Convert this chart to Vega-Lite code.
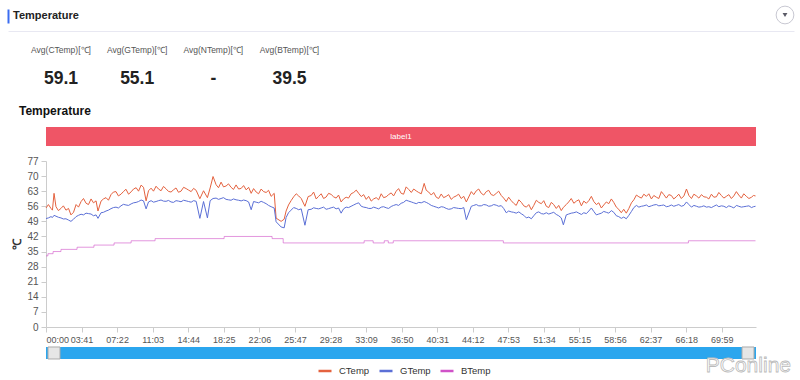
{
  "$schema": "https://vega.github.io/schema/vega-lite/v6.json",
  "background": "white",
  "padding": {"left": 8, "top": 4, "right": 4, "bottom": 2},
  "config": {
    "font": "Liberation Sans",
    "view": {"stroke": null},
    "axis": {"labelOverlap": false}
  },
  "datasets": {
    "stats": [
      {"metric": "Avg(CTemp)[℃]", "value": "59.1"},
      {"metric": "Avg(GTemp)[℃]", "value": "55.1"},
      {"metric": "Avg(NTemp)[℃]", "value": "-"},
      {"metric": "Avg(BTemp)[℃]", "value": "39.5"}
    ],
    "labels": [{"label": "label1", "start": 0, "end": 4412}],
    "window": [{"name": "zoom", "start": 0, "end": 4412, "mark": "PConline"}],
    "temps": [
      {"t": 0, "CTemp": 55.2, "GTemp": 50.3}, {"t": 31, "CTemp": 55.0, "GTemp": 51.2}, {"t": 50, "CTemp": 62.0, "GTemp": 51.8},
      {"t": 62, "CTemp": 55.8, "GTemp": 51.4}, {"t": 93, "CTemp": 55.0, "GTemp": 50.6}, {"t": 124, "CTemp": 54.2, "GTemp": 50.2},
      {"t": 155, "CTemp": 52.0, "GTemp": 49.0}, {"t": 187, "CTemp": 56.8, "GTemp": 51.2}, {"t": 218, "CTemp": 58.2, "GTemp": 52.3},
      {"t": 249, "CTemp": 57.4, "GTemp": 52.8}, {"t": 280, "CTemp": 59.4, "GTemp": 52.4}, {"t": 311, "CTemp": 58.5, "GTemp": 52.0},
      {"t": 323, "CTemp": 53.8, "GTemp": 50.4}, {"t": 342, "CTemp": 58.4, "GTemp": 53.0}, {"t": 373, "CTemp": 60.0, "GTemp": 53.8},
      {"t": 404, "CTemp": 61.4, "GTemp": 54.9}, {"t": 435, "CTemp": 62.8, "GTemp": 55.6}, {"t": 466, "CTemp": 61.6, "GTemp": 56.2},
      {"t": 497, "CTemp": 63.9, "GTemp": 56.6}, {"t": 529, "CTemp": 62.7, "GTemp": 57.1}, {"t": 560, "CTemp": 64.6, "GTemp": 57.8},
      {"t": 591, "CTemp": 65.8, "GTemp": 58.9}, {"t": 622, "CTemp": 58.5, "GTemp": 54.8}, {"t": 653, "CTemp": 64.4, "GTemp": 58.6},
      {"t": 684, "CTemp": 65.3, "GTemp": 58.2}, {"t": 715, "CTemp": 63.2, "GTemp": 58.9}, {"t": 746, "CTemp": 64.1, "GTemp": 58.3},
      {"t": 777, "CTemp": 62.6, "GTemp": 58.0}, {"t": 808, "CTemp": 64.5, "GTemp": 58.6}, {"t": 839, "CTemp": 63.0, "GTemp": 58.1},
      {"t": 871, "CTemp": 64.2, "GTemp": 58.5}, {"t": 902, "CTemp": 62.8, "GTemp": 57.9}, {"t": 933, "CTemp": 63.4, "GTemp": 58.3},
      {"t": 956, "CTemp": 59.5, "GTemp": 50.4}, {"t": 979, "CTemp": 63.2, "GTemp": 58.2}, {"t": 1003, "CTemp": 60.0, "GTemp": 50.6},
      {"t": 1020, "CTemp": 64.5, "GTemp": 58.6}, {"t": 1038, "CTemp": 69.8, "GTemp": 59.6}, {"t": 1057, "CTemp": 66.0, "GTemp": 59.8},
      {"t": 1088, "CTemp": 67.2, "GTemp": 59.6}, {"t": 1119, "CTemp": 65.4, "GTemp": 59.2}, {"t": 1150, "CTemp": 64.8, "GTemp": 58.8},
      {"t": 1181, "CTemp": 65.9, "GTemp": 59.0}, {"t": 1213, "CTemp": 64.3, "GTemp": 58.5}, {"t": 1244, "CTemp": 63.6, "GTemp": 58.6},
      {"t": 1275, "CTemp": 62.0, "GTemp": 54.4}, {"t": 1306, "CTemp": 62.6, "GTemp": 57.9}, {"t": 1337, "CTemp": 64.0, "GTemp": 58.3},
      {"t": 1368, "CTemp": 62.4, "GTemp": 57.2}, {"t": 1399, "CTemp": 60.6, "GTemp": 55.8}, {"t": 1418, "CTemp": 62.0, "GTemp": 55.2},
      {"t": 1430, "CTemp": 50.5, "GTemp": 48.8}, {"t": 1461, "CTemp": 49.0, "GTemp": 46.4}, {"t": 1480, "CTemp": 50.0, "GTemp": 46.0},
      {"t": 1492, "CTemp": 53.8, "GTemp": 50.8}, {"t": 1523, "CTemp": 58.6, "GTemp": 54.2}, {"t": 1555, "CTemp": 61.8, "GTemp": 55.0},
      {"t": 1586, "CTemp": 59.6, "GTemp": 54.8}, {"t": 1609, "CTemp": 56.0, "GTemp": 47.2}, {"t": 1629, "CTemp": 60.5, "GTemp": 54.4},
      {"t": 1648, "CTemp": 61.0, "GTemp": 54.6}, {"t": 1679, "CTemp": 59.4, "GTemp": 55.0}, {"t": 1710, "CTemp": 61.8, "GTemp": 55.2},
      {"t": 1741, "CTemp": 60.3, "GTemp": 54.6}, {"t": 1772, "CTemp": 61.5, "GTemp": 55.3}, {"t": 1803, "CTemp": 59.8, "GTemp": 54.8},
      {"t": 1834, "CTemp": 58.0, "GTemp": 52.8}, {"t": 1865, "CTemp": 60.2, "GTemp": 55.6}, {"t": 1896, "CTemp": 61.8, "GTemp": 56.0},
      {"t": 1928, "CTemp": 63.5, "GTemp": 57.2}, {"t": 1959, "CTemp": 60.5, "GTemp": 56.0}, {"t": 1990, "CTemp": 59.2, "GTemp": 55.4},
      {"t": 2021, "CTemp": 58.4, "GTemp": 55.0}, {"t": 2052, "CTemp": 60.0, "GTemp": 55.2}, {"t": 2083, "CTemp": 61.8, "GTemp": 55.6},
      {"t": 2114, "CTemp": 60.4, "GTemp": 55.3}, {"t": 2145, "CTemp": 62.2, "GTemp": 55.9}, {"t": 2176, "CTemp": 63.0, "GTemp": 56.8},
      {"t": 2207, "CTemp": 62.0, "GTemp": 57.4}, {"t": 2238, "CTemp": 65.0, "GTemp": 58.8}, {"t": 2270, "CTemp": 62.4, "GTemp": 58.0},
      {"t": 2301, "CTemp": 63.1, "GTemp": 57.2}, {"t": 2332, "CTemp": 61.8, "GTemp": 57.6}, {"t": 2350, "CTemp": 66.6, "GTemp": 58.2},
      {"t": 2363, "CTemp": 63.4, "GTemp": 57.8}, {"t": 2394, "CTemp": 61.2, "GTemp": 56.4}, {"t": 2425, "CTemp": 60.2, "GTemp": 55.6},
      {"t": 2456, "CTemp": 61.7, "GTemp": 55.8}, {"t": 2487, "CTemp": 60.6, "GTemp": 55.0}, {"t": 2518, "CTemp": 59.2, "GTemp": 54.8},
      {"t": 2549, "CTemp": 60.8, "GTemp": 55.2}, {"t": 2580, "CTemp": 59.6, "GTemp": 54.9}, {"t": 2612, "CTemp": 58.0, "GTemp": 49.8},
      {"t": 2643, "CTemp": 62.8, "GTemp": 56.0}, {"t": 2674, "CTemp": 63.2, "GTemp": 56.8}, {"t": 2705, "CTemp": 62.0, "GTemp": 56.2},
      {"t": 2736, "CTemp": 62.8, "GTemp": 56.6}, {"t": 2767, "CTemp": 61.4, "GTemp": 56.2}, {"t": 2798, "CTemp": 62.0, "GTemp": 56.5},
      {"t": 2829, "CTemp": 61.0, "GTemp": 56.3}, {"t": 2860, "CTemp": 58.2, "GTemp": 53.0}, {"t": 2891, "CTemp": 58.6, "GTemp": 53.4},
      {"t": 2922, "CTemp": 56.4, "GTemp": 52.8}, {"t": 2954, "CTemp": 57.8, "GTemp": 52.5}, {"t": 2985, "CTemp": 55.6, "GTemp": 50.6},
      {"t": 3016, "CTemp": 54.4, "GTemp": 50.2}, {"t": 3047, "CTemp": 58.8, "GTemp": 53.0}, {"t": 3078, "CTemp": 57.2, "GTemp": 52.6},
      {"t": 3109, "CTemp": 56.0, "GTemp": 53.0}, {"t": 3140, "CTemp": 57.8, "GTemp": 52.8}, {"t": 3171, "CTemp": 55.0, "GTemp": 52.2},
      {"t": 3202, "CTemp": 54.0, "GTemp": 50.6}, {"t": 3215, "CTemp": 55.5, "GTemp": 47.4}, {"t": 3233, "CTemp": 56.8, "GTemp": 52.0},
      {"t": 3264, "CTemp": 59.6, "GTemp": 52.8}, {"t": 3296, "CTemp": 58.4, "GTemp": 53.4}, {"t": 3327, "CTemp": 56.2, "GTemp": 52.2},
      {"t": 3358, "CTemp": 57.4, "GTemp": 52.6}, {"t": 3389, "CTemp": 60.6, "GTemp": 55.2}, {"t": 3420, "CTemp": 56.8, "GTemp": 52.0},
      {"t": 3451, "CTemp": 55.2, "GTemp": 52.8}, {"t": 3482, "CTemp": 58.0, "GTemp": 53.2}, {"t": 3513, "CTemp": 59.4, "GTemp": 54.0},
      {"t": 3544, "CTemp": 55.6, "GTemp": 51.6}, {"t": 3575, "CTemp": 53.0, "GTemp": 50.4}, {"t": 3606, "CTemp": 52.8, "GTemp": 50.2},
      {"t": 3638, "CTemp": 57.6, "GTemp": 53.6}, {"t": 3669, "CTemp": 61.2, "GTemp": 56.4}, {"t": 3700, "CTemp": 59.8, "GTemp": 56.0},
      {"t": 3731, "CTemp": 60.6, "GTemp": 56.6}, {"t": 3762, "CTemp": 59.4, "GTemp": 56.2}, {"t": 3793, "CTemp": 60.2, "GTemp": 56.8},
      {"t": 3824, "CTemp": 62.8, "GTemp": 56.4}, {"t": 3855, "CTemp": 59.8, "GTemp": 55.8}, {"t": 3886, "CTemp": 61.0, "GTemp": 56.6},
      {"t": 3917, "CTemp": 60.4, "GTemp": 56.4}, {"t": 3948, "CTemp": 59.6, "GTemp": 56.0}, {"t": 3980, "CTemp": 64.0, "GTemp": 58.0},
      {"t": 4011, "CTemp": 59.6, "GTemp": 55.6}, {"t": 4042, "CTemp": 60.8, "GTemp": 56.0}, {"t": 4073, "CTemp": 61.4, "GTemp": 55.8},
      {"t": 4104, "CTemp": 60.2, "GTemp": 55.6}, {"t": 4135, "CTemp": 61.6, "GTemp": 55.4}, {"t": 4166, "CTemp": 60.4, "GTemp": 56.6},
      {"t": 4197, "CTemp": 61.0, "GTemp": 56.2}, {"t": 4228, "CTemp": 60.6, "GTemp": 55.4}, {"t": 4259, "CTemp": 59.6, "GTemp": 55.8},
      {"t": 4290, "CTemp": 62.8, "GTemp": 56.4}, {"t": 4321, "CTemp": 59.8, "GTemp": 55.6}, {"t": 4352, "CTemp": 60.6, "GTemp": 56.0},
      {"t": 4384, "CTemp": 60.2, "GTemp": 55.4}, {"t": 4409, "CTemp": 60.8, "GTemp": 56.0},
      {"t": 15, "CTemp": 56.8, "GTemp": 50.6}, {"t": 40, "CTemp": 54.2, "GTemp": 50.8}, {"t": 77, "CTemp": 54.0, "GTemp": 50.9},
      {"t": 108, "CTemp": 56.2, "GTemp": 50.1}, {"t": 140, "CTemp": 55.0, "GTemp": 49.6}, {"t": 171, "CTemp": 53.2, "GTemp": 50.0},
      {"t": 202, "CTemp": 55.6, "GTemp": 51.8}, {"t": 233, "CTemp": 59.6, "GTemp": 52.0}, {"t": 264, "CTemp": 56.8, "GTemp": 52.6},
      {"t": 295, "CTemp": 57.6, "GTemp": 51.6}, {"t": 357, "CTemp": 59.4, "GTemp": 53.2}, {"t": 388, "CTemp": 58.8, "GTemp": 54.2},
      {"t": 419, "CTemp": 62.6, "GTemp": 55.4}, {"t": 450, "CTemp": 60.8, "GTemp": 55.2}, {"t": 481, "CTemp": 62.8, "GTemp": 56.9},
      {"t": 513, "CTemp": 61.6, "GTemp": 56.4}, {"t": 544, "CTemp": 64.0, "GTemp": 57.6}, {"t": 575, "CTemp": 63.0, "GTemp": 58.2},
      {"t": 606, "CTemp": 64.8, "GTemp": 58.5}, {"t": 637, "CTemp": 63.2, "GTemp": 58.0}, {"t": 668, "CTemp": 63.0, "GTemp": 57.9},
      {"t": 699, "CTemp": 64.0, "GTemp": 58.6}, {"t": 730, "CTemp": 65.2, "GTemp": 58.4}, {"t": 761, "CTemp": 62.9, "GTemp": 58.7},
      {"t": 792, "CTemp": 63.6, "GTemp": 57.8}, {"t": 823, "CTemp": 62.5, "GTemp": 58.4}, {"t": 855, "CTemp": 64.8, "GTemp": 58.8},
      {"t": 886, "CTemp": 63.5, "GTemp": 58.2}, {"t": 917, "CTemp": 64.3, "GTemp": 58.6}, {"t": 1072, "CTemp": 64.6, "GTemp": 59.2},
      {"t": 1103, "CTemp": 65.0, "GTemp": 60.0}, {"t": 1134, "CTemp": 66.4, "GTemp": 59.0}, {"t": 1165, "CTemp": 63.8, "GTemp": 59.4},
      {"t": 1197, "CTemp": 64.0, "GTemp": 58.8}, {"t": 1228, "CTemp": 65.6, "GTemp": 58.9}, {"t": 1259, "CTemp": 64.8, "GTemp": 58.0},
      {"t": 1290, "CTemp": 64.2, "GTemp": 58.2}, {"t": 1321, "CTemp": 61.8, "GTemp": 57.6}, {"t": 1352, "CTemp": 62.8, "GTemp": 57.8},
      {"t": 1383, "CTemp": 63.4, "GTemp": 56.4}, {"t": 1507, "CTemp": 56.6, "GTemp": 53.0}, {"t": 1539, "CTemp": 60.4, "GTemp": 55.4},
      {"t": 1570, "CTemp": 60.8, "GTemp": 54.4}, {"t": 1663, "CTemp": 62.6, "GTemp": 55.3}, {"t": 1694, "CTemp": 60.6, "GTemp": 54.8},
      {"t": 1725, "CTemp": 59.6, "GTemp": 55.6}, {"t": 1756, "CTemp": 62.0, "GTemp": 54.9}, {"t": 1787, "CTemp": 60.4, "GTemp": 55.6},
      {"t": 1818, "CTemp": 61.2, "GTemp": 55.2}, {"t": 1849, "CTemp": 59.4, "GTemp": 54.8}, {"t": 1880, "CTemp": 59.8, "GTemp": 55.4},
      {"t": 1912, "CTemp": 62.4, "GTemp": 56.6}, {"t": 1943, "CTemp": 62.0, "GTemp": 57.6}, {"t": 1974, "CTemp": 61.4, "GTemp": 55.6},
      {"t": 2005, "CTemp": 60.6, "GTemp": 55.0}, {"t": 2036, "CTemp": 59.4, "GTemp": 55.6}, {"t": 2067, "CTemp": 59.0, "GTemp": 54.8},
      {"t": 2098, "CTemp": 60.0, "GTemp": 55.8}, {"t": 2129, "CTemp": 61.4, "GTemp": 55.0}, {"t": 2160, "CTemp": 60.8, "GTemp": 56.4},
      {"t": 2191, "CTemp": 64.2, "GTemp": 56.4}, {"t": 2222, "CTemp": 61.6, "GTemp": 57.8}, {"t": 2254, "CTemp": 63.8, "GTemp": 58.4},
      {"t": 2285, "CTemp": 64.0, "GTemp": 57.6}, {"t": 2316, "CTemp": 62.4, "GTemp": 57.8}, {"t": 2378, "CTemp": 62.6, "GTemp": 57.2},
      {"t": 2409, "CTemp": 62.4, "GTemp": 56.0}, {"t": 2440, "CTemp": 59.6, "GTemp": 55.2}, {"t": 2471, "CTemp": 60.0, "GTemp": 55.6},
      {"t": 2502, "CTemp": 61.4, "GTemp": 54.6}, {"t": 2533, "CTemp": 60.2, "GTemp": 55.4}, {"t": 2564, "CTemp": 61.6, "GTemp": 55.0},
      {"t": 2596, "CTemp": 60.6, "GTemp": 55.4}, {"t": 2658, "CTemp": 61.4, "GTemp": 56.4}, {"t": 2689, "CTemp": 64.0, "GTemp": 56.2},
      {"t": 2720, "CTemp": 61.2, "GTemp": 56.8}, {"t": 2751, "CTemp": 63.4, "GTemp": 56.0}, {"t": 2782, "CTemp": 61.0, "GTemp": 56.8},
      {"t": 2813, "CTemp": 63.0, "GTemp": 56.0}, {"t": 2844, "CTemp": 59.8, "GTemp": 55.0}, {"t": 2875, "CTemp": 60.2, "GTemp": 53.8},
      {"t": 2906, "CTemp": 57.4, "GTemp": 53.2}, {"t": 2938, "CTemp": 59.0, "GTemp": 53.4}, {"t": 2969, "CTemp": 56.2, "GTemp": 51.8},
      {"t": 3000, "CTemp": 56.8, "GTemp": 51.0}, {"t": 3031, "CTemp": 56.4, "GTemp": 51.6}, {"t": 3062, "CTemp": 57.8, "GTemp": 53.4},
      {"t": 3093, "CTemp": 58.6, "GTemp": 52.4}, {"t": 3124, "CTemp": 55.4, "GTemp": 52.4}, {"t": 3155, "CTemp": 56.8, "GTemp": 53.2},
      {"t": 3186, "CTemp": 56.4, "GTemp": 51.6}, {"t": 3248, "CTemp": 58.0, "GTemp": 52.4}, {"t": 3280, "CTemp": 57.4, "GTemp": 53.0},
      {"t": 3311, "CTemp": 59.0, "GTemp": 52.8}, {"t": 3342, "CTemp": 58.4, "GTemp": 53.0}, {"t": 3373, "CTemp": 58.6, "GTemp": 53.8},
      {"t": 3404, "CTemp": 58.2, "GTemp": 53.6}, {"t": 3435, "CTemp": 57.6, "GTemp": 52.4}, {"t": 3466, "CTemp": 56.6, "GTemp": 53.6},
      {"t": 3497, "CTemp": 57.2, "GTemp": 52.8}, {"t": 3528, "CTemp": 57.8, "GTemp": 53.2}, {"t": 3559, "CTemp": 54.6, "GTemp": 51.2},
      {"t": 3590, "CTemp": 54.6, "GTemp": 51.0}, {"t": 3622, "CTemp": 55.0, "GTemp": 51.8}, {"t": 3653, "CTemp": 59.0, "GTemp": 55.4},
      {"t": 3684, "CTemp": 60.4, "GTemp": 55.6}, {"t": 3715, "CTemp": 61.6, "GTemp": 56.2}, {"t": 3746, "CTemp": 61.8, "GTemp": 55.8},
      {"t": 3777, "CTemp": 61.0, "GTemp": 56.6}, {"t": 3808, "CTemp": 59.6, "GTemp": 56.2}, {"t": 3839, "CTemp": 61.4, "GTemp": 56.6},
      {"t": 3870, "CTemp": 61.4, "GTemp": 56.0}, {"t": 3901, "CTemp": 59.4, "GTemp": 56.0}, {"t": 3932, "CTemp": 61.6, "GTemp": 56.8},
      {"t": 3964, "CTemp": 60.8, "GTemp": 56.4}, {"t": 3995, "CTemp": 61.0, "GTemp": 56.8}, {"t": 4026, "CTemp": 61.6, "GTemp": 56.4},
      {"t": 4057, "CTemp": 59.8, "GTemp": 55.6}, {"t": 4088, "CTemp": 60.4, "GTemp": 56.2}, {"t": 4119, "CTemp": 59.4, "GTemp": 55.8},
      {"t": 4150, "CTemp": 60.2, "GTemp": 56.0}, {"t": 4181, "CTemp": 62.4, "GTemp": 55.8}, {"t": 4212, "CTemp": 59.8, "GTemp": 56.0},
      {"t": 4243, "CTemp": 61.4, "GTemp": 56.2}, {"t": 4274, "CTemp": 60.8, "GTemp": 55.2}, {"t": 4305, "CTemp": 61.2, "GTemp": 56.0},
      {"t": 4336, "CTemp": 61.8, "GTemp": 55.8}, {"t": 4368, "CTemp": 59.6, "GTemp": 56.2}, {"t": 4396, "CTemp": 61.0, "GTemp": 55.8}
    ],
    "btemp": [
      {"t": 0, "BTemp": 33}, {"t": 12, "BTemp": 34}, {"t": 44, "BTemp": 35}, {"t": 93, "BTemp": 36},
      {"t": 193, "BTemp": 37}, {"t": 298, "BTemp": 38}, {"t": 423, "BTemp": 39}, {"t": 529, "BTemp": 40},
      {"t": 678, "BTemp": 41}, {"t": 1107, "BTemp": 42}, {"t": 1405, "BTemp": 41}, {"t": 1474, "BTemp": 39},
      {"t": 1977, "BTemp": 40}, {"t": 2033, "BTemp": 39}, {"t": 2102, "BTemp": 40}, {"t": 2127, "BTemp": 39},
      {"t": 2158, "BTemp": 40}, {"t": 2842, "BTemp": 39}, {"t": 3992, "BTemp": 40}, {"t": 4409, "BTemp": 40}
    ]
  },
  "spacing": 15,
  "bounds": "flush",
  "center": true,
  "resolve": {"scale": {"color": "shared"}},
  "vconcat": [
    {
      "width": 786,
      "height": 14,
      "title": {"text": "Temperature", "anchor": "start", "frame": "group", "fontSize": 11, "fontWeight": "bold", "color": "#222222", "dx": 5, "offset": -17},
      "data": {"values": [{"icon": "menu"}]},
      "encoding": {
        "x": {"datum": 1, "type": "quantitative", "scale": {"domain": [0, 1]}, "axis": {"orient": "bottom", "offset": 8, "domainColor": "#e8e8f2", "domainWidth": 1, "ticks": false, "labels": false, "grid": false, "title": null}},
        "y": {"datum": 0, "type": "quantitative", "scale": {"domain": [-1, 1]}, "axis": {"domainColor": "#3b6cf0", "domainWidth": 2, "ticks": false, "labels": false, "grid": false, "title": null}}
      },
      "layer": [
        {"mark": {"type": "point", "shape": "circle", "size": 314, "filled": true, "fill": "white", "stroke": "#c8c8d2", "strokeWidth": 1, "opacity": 1, "xOffset": -9, "yOffset": -1}},
        {"mark": {"type": "point", "shape": "triangle-down", "size": 24, "filled": true, "color": "#5a5a66", "opacity": 1, "xOffset": -9, "yOffset": -1}}
      ]
    },
    {
      "width": 786,
      "height": 53,
      "data": {"name": "stats"},
      "encoding": {
        "x": {"field": "metric", "type": "nominal", "sort": null, "scale": {"type": "point", "range": [53, 281.5], "padding": 0}, "axis": null}
      },
      "layer": [
        {"mark": {"type": "text", "fontSize": 8.5, "color": "#555555"}, "encoding": {"text": {"field": "metric"}, "y": {"datum": "label", "type": "nominal", "scale": {"type": "point", "domain": ["label", "value"], "padding": 0.446}, "axis": null}}},
        {"mark": {"type": "text", "fontSize": 17.5, "fontWeight": "bold", "color": "#222222"}, "encoding": {"text": {"field": "value"}, "y": {"datum": "value", "type": "nominal"}}}
      ]
    },
    {
      "width": 710,
      "height": 40,
      "title": {"text": "Temperature", "anchor": "start", "frame": "group", "fontSize": 12, "fontWeight": "bold", "color": "#111111", "dx": -27, "offset": -12},
      "data": {"name": "labels"},
      "encoding": {
        "y": {"field": "label", "type": "nominal", "scale": {"type": "band", "paddingInner": 0, "paddingOuter": 0.553, "align": 1}, "axis": null}
      },
      "layer": [
        {"mark": {"type": "rect", "color": "#ef5566"}, "encoding": {"x": {"field": "start", "type": "quantitative", "scale": {"domain": [0, 4412], "nice": false}, "axis": null}, "x2": {"field": "end"}}},
        {"mark": {"type": "text", "color": "white", "fontSize": 8}, "encoding": {"text": {"field": "label"}}}
      ]
    },
    {
      "width": 710,
      "height": 166,
      "encoding": {
        "x": {"field": "t", "type": "quantitative", "scale": {"domain": [0, 4412], "nice": false},
          "axis": {"values": [0, 221, 442, 663, 884, 1105, 1326, 1547, 1768, 1989, 2210, 2431, 2652, 2873, 3094, 3315, 3536, 3757, 3978, 4199],
            "labelExpr": "(floor(datum.value/60) < 10 ? '0' : '') + floor(datum.value/60) + ':' + (datum.value % 60 < 10 ? '0' : '') + (datum.value % 60)",
            "labelFlush": true, "labelOverlap": false, "grid": false, "title": null, "domainColor": "#cccccc", "tickColor": "#cccccc", "tickSize": 5,
            "labelColor": "#555555", "labelFontSize": 9, "labelPadding": 3}},
        "y": {"field": "value", "type": "quantitative", "scale": {"domain": [0, 77], "nice": false},
          "axis": {"values": [0, 7, 14, 21, 28, 35, 42, 49, 56, 63, 70, 77], "labelOverlap": false, "grid": false, "title": "℃",
            "domainColor": "#cccccc", "tickColor": "#cccccc", "tickSize": 5, "labelColor": "#555555", "labelFontSize": 10,
            "labelPadding": 3, "titleFontSize": 11.5, "titleFontWeight": "bold", "titleColor": "#333333", "titlePadding": 4}},
        "color": {"field": "series", "type": "nominal",
          "scale": {"domain": ["CTemp", "GTemp", "BTemp"], "range": ["#e4623f", "#5b6fd6", "#d052c8"]},
          "legend": {"orient": "none", "legendX": 309, "legendY": 354, "direction": "horizontal", "title": null, "symbolType": "stroke", "symbolSize": 169,
            "symbolStrokeWidth": 2.5, "symbolOpacity": 1, "labelFontSize": 9.5, "labelColor": "#333333", "columnPadding": 4, "labelOffset": 6}}
      },
      "layer": [
        {
          "data": {"name": "temps"},
          "transform": [{"fold": ["CTemp", "GTemp"], "as": ["series", "value"]}],
          "mark": {"type": "line", "strokeWidth": 1, "interpolate": "linear"}
        },
        {
          "data": {"name": "btemp"},
          "transform": [{"fold": ["BTemp"], "as": ["series", "value"]}],
          "mark": {"type": "line", "strokeWidth": 1, "interpolate": "step-after", "strokeOpacity": 0.6}
        }
      ]
    },
    {
      "width": 710,
      "height": 17,
      "data": {"name": "window"},
      "encoding": {
        "y": {"field": "name", "type": "nominal", "scale": {"type": "band", "paddingInner": 0, "paddingOuter": 0.2083, "align": 1}, "axis": null}
      },
      "layer": [
        {"mark": {"type": "rect", "color": "#2ba6ee"}, "encoding": {"x": {"field": "start", "type": "quantitative", "scale": {"domain": [0, 4412], "nice": false}, "axis": null}, "x2": {"field": "end"}}},
        {"mark": {"type": "point", "shape": "square", "size": 144, "filled": true, "fill": "#e6e6e6", "stroke": "#aaaaaa", "strokeWidth": 1, "opacity": 1, "xOffset": 8}, "encoding": {"x": {"field": "start", "type": "quantitative"}}},
        {"mark": {"type": "point", "shape": "square", "size": 144, "filled": true, "fill": "#e6e6e6", "stroke": "#aaaaaa", "strokeWidth": 1, "opacity": 1, "xOffset": -8}, "encoding": {"x": {"field": "end", "type": "quantitative"}}},
        {"mark": {"type": "text", "align": "right", "baseline": "middle", "fontSize": 21, "fill": "#ffffff", "stroke": "#bbbbbb", "strokeWidth": 0.8, "dx": 35, "dy": 13}, "encoding": {"x": {"field": "end", "type": "quantitative"}, "text": {"field": "mark"}}}
      ]
    }
  ]
}
